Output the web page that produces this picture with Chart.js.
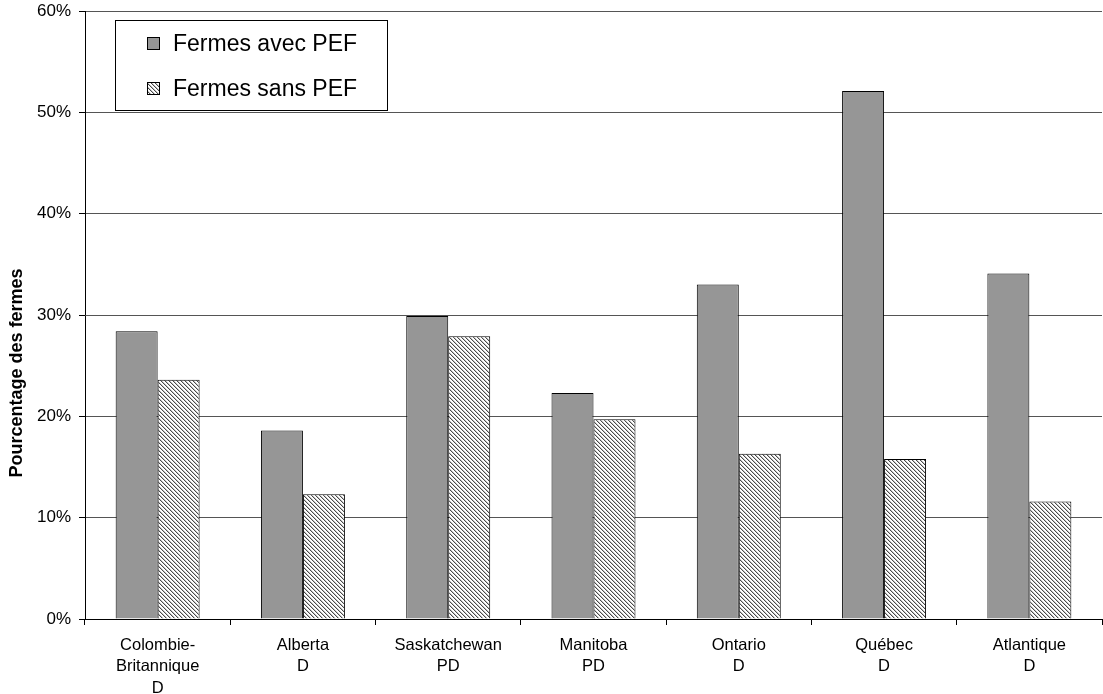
<!DOCTYPE html>
<html lang="fr">
<head>
<meta charset="utf-8">
<title>Fermes avec et sans PEF</title>
<script src="https://cdn.jsdelivr.net/npm/chart.js@4/dist/chart.umd.min.js"></script>
<style>
  html, body { margin: 0; padding: 0; background: #fff; }
  #wrap { width: 1103px; height: 694px; }
</style>
</head>
<body>
<div id="wrap"><canvas id="chart" width="1103" height="694"></canvas></div>
<script>
// Provinces / régions, with the qualifier line under each name
const categories = [
  ['Colombie-', 'Britannique', 'D'],
  ['Alberta', 'D'],
  ['Saskatchewan', 'PD'],
  ['Manitoba', 'PD'],
  ['Ontario', 'D'],
  ['Québec', 'D'],
  ['Atlantique', 'D']
];

// Share of farms (%)
const avecPEF = [28.4, 18.6, 29.9, 22.3, 33.0, 52.1, 34.1];
const sansPEF = [23.6, 12.3, 27.9, 19.7, 16.3, 15.8, 11.6];

const seriesNames = ['Fermes avec PEF', 'Fermes sans PEF'];
const yTicks = [0, 10, 20, 30, 40, 50, 60];
const yTitle = 'Pourcentage des fermes';

const FONT = "'Liberation Sans', Arial, sans-serif";

// Diagonal hatching for the second series
function makeHatch() {
  const c = document.createElement('canvas');
  c.width = 4; c.height = 4;
  const g = c.getContext('2d');
  g.fillStyle = '#ffffff';
  g.fillRect(0, 0, 4, 4);
  for (let y = 0; y < 4; y++) {
    for (let x = 0; x < 4; x++) {
      const d = (x - y + 4) % 4;
      if (d === 0) { g.fillStyle = '#4a4a4a'; g.fillRect(x, y, 1, 1); }
      else if (d === 1) { g.fillStyle = '#c4c4c4'; g.fillRect(x, y, 1, 1); }
    }
  }
  return document.getElementById('chart').getContext('2d').createPattern(c, 'repeat');
}
const hatch = makeHatch();

// Boxed legend sitting inside the plot, plus the rotated y title
const decorations = {
  id: 'decorations',
  afterDraw(chart) {
    const ctx = chart.ctx;
    ctx.save();

    // y-axis title
    ctx.translate(17, 373);
    ctx.rotate(-Math.PI / 2);
    ctx.fillStyle = '#000';
    ctx.font = 'bold 18px ' + FONT;
    ctx.textAlign = 'center';
    ctx.textBaseline = 'middle';
    ctx.fillText(yTitle, 0, 0);
    ctx.setTransform(1, 0, 0, 1, 0, 0);

    // legend box
    ctx.fillStyle = '#fff';
    ctx.fillRect(115.5, 20.5, 272, 90);
    ctx.strokeStyle = '#000';
    ctx.lineWidth = 1;
    ctx.strokeRect(115.5, 20.5, 272, 90);

    ctx.font = '23px ' + FONT;
    ctx.textAlign = 'left';
    ctx.textBaseline = 'alphabetic';
    const rows = [43, 88];
    chart.data.datasets.forEach((ds, i) => {
      const cy = rows[i];
      ctx.fillStyle = ds.backgroundColor;
      ctx.fillRect(147, cy - 6, 13, 13);
      ctx.strokeStyle = '#000';
      ctx.strokeRect(147.5, cy - 5.5, 12, 12);
      ctx.fillStyle = '#000';
      ctx.fillText(ds.label, 173, cy + 8);
    });
    ctx.restore();
  }
};

new Chart(document.getElementById('chart'), {
  type: 'bar',
  data: {
    labels: categories,
    datasets: [
      {
        label: seriesNames[0],
        data: avecPEF,
        backgroundColor: '#969696',
        borderColor: '#000',
        borderWidth: 1
      },
      {
        label: seriesNames[1],
        data: sansPEF,
        backgroundColor: hatch,
        borderColor: '#000',
        borderWidth: 1
      }
    ]
  },
  options: {
    responsive: false,
    devicePixelRatio: 1,
    animation: false,
    layout: { padding: { top: 11, right: 1, left: 0, bottom: 0 } },
    datasets: {
      bar: { barPercentage: 1, categoryPercentage: 0.578 }
    },
    plugins: {
      legend: { display: false },
      tooltip: { enabled: false }
    },
    scales: {
      x: {
        offset: true,
        grid: {
          offset: true,
          drawOnChartArea: false,
          drawTicks: true,
          tickLength: 6,
          tickColor: '#000'
        },
        border: { color: '#000', width: 1 },
        ticks: {
          color: '#000',
          padding: 9,
          maxRotation: 0,
          autoSkip: false,
          font: { family: FONT, size: 16.5, lineHeight: 1.33 }
        },
        afterFit(scale) {
          scale.height = 75;
          scale.paddingLeft = 0;
          scale.paddingRight = 0;
        }
      },
      y: {
        min: 0,
        max: 60,
        afterBuildTicks(scale) { scale.ticks = yTicks.map(v => ({ value: v })); },
        grid: {
          color: '#555555',
          lineWidth: 1,
          drawTicks: true,
          tickLength: 6,
          tickColor: '#000'
        },
        border: { color: '#000', width: 1 },
        ticks: {
          color: '#000',
          padding: 8,
          font: { family: FONT, size: 17 },
          callback: v => v + '%'
        },
        afterFit(scale) {
          scale.width = 85;
          scale.paddingTop = 0;
          scale.paddingBottom = 0;
        }
      }
    }
  },
  plugins: [decorations]
});
</script>
</body>
</html>
